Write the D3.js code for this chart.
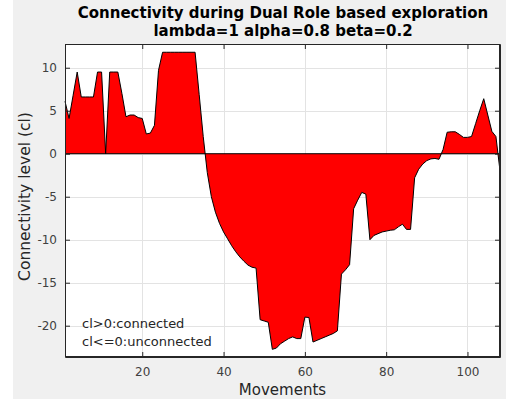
<!DOCTYPE html>
<html><head><meta charset="utf-8">
<script src="https://cdn.jsdelivr.net/npm/d3@7"></script>
<style>
html,body{margin:0;padding:0;background:#fff;}
svg{display:block;font-family:"DejaVu Sans",sans-serif;}
</style></head>
<body>
<svg id="chart" width="508" height="401"></svg>
<script>
const movements = d3.range(1, 109);
const connectivity = [
  6.1, 4.1, 6.8, 9.5, 6.6, 6.6, 6.6, 6.6, 9.5, 9.5,
  0, 9.5, 9.5, 9.5, 7.0, 4.3, 4.5, 4.5, 4.2, 4.1,
  2.3, 2.4, 3.3, 9.7, 11.8, 11.8, 11.8, 11.8, 11.8, 11.8,
  11.8, 11.8, 11.8, 6.9, 2.0, -2.2, -5.0, -6.8, -8.1, -9.1,
  -9.9, -10.7, -11.4, -12.0, -12.5, -12.95, -13.2, -13.3, -19.3, -19.45,
  -19.6, -22.75, -22.6, -22.1, -21.8, -21.5, -21.3, -21.5, -21.5, -19.0,
  -19.05, -21.9, -21.7, -21.5, -21.3, -21.1, -20.9, -20.6, -14.0, -13.5,
  -12.9, -6.4, -5.4, -4.5, -4.7, -10.0, -9.5, -9.3, -9.1, -9.0,
  -8.9, -8.85, -8.5, -8.2, -8.8, -8.8, -2.8, -1.8, -1.2, -0.8,
  -0.6, -0.55, -0.65, 0.5, 2.5, 2.55, 2.55, 2.25, 1.9, 1.9,
  2.0, 3.5, 5.0, 6.4, 4.5, 2.6, 2.0, -2.0
];
const xTicks = [20, 40, 60, 80, 100];
const yTicks = [-20, -15, -10, -5, 0, 5, 10];
const titleLines = ["Connectivity during Dual Role based exploration", "lambda=1 alpha=0.8 beta=0.2"];
const notes = ["cl>0:connected", "cl<=0:unconnected"];

const data = movements.map((m, i) => ({x: m, y: connectivity[i]}));

const svg = d3.select("#chart");
const L = 65, R = 500, T = 44, B = 357;
const x = d3.scaleLinear().domain([1, 108]).range([L, R]);
const y = d3.scaleLinear().domain([-23.64, 12.76]).range([B, T]);
const axisCol = "#262626";

svg.append("rect").attr("x", 13).attr("y", 0).attr("width", 493).attr("height", 399).attr("fill", "#f0f0f0");
svg.append("rect").attr("x", L).attr("y", T).attr("width", R - L).attr("height", B - T).attr("fill", "#fff");

// grid
const g = svg.append("g").attr("stroke", "#e3e3e3").attr("stroke-width", 1);
xTicks.forEach(t => g.append("line").attr("x1", Math.round(x(t)) + 0.5).attr("x2", Math.round(x(t)) + 0.5).attr("y1", T).attr("y2", B));
yTicks.forEach(t => g.append("line").attr("y1", Math.round(y(t)) + 0.5).attr("y2", Math.round(y(t)) + 0.5).attr("x1", L).attr("x2", R));

// area
const area = d3.area().x(d => x(d.x)).y0(y(0)).y1(d => y(d.y));
svg.append("path").datum(data).attr("d", area).attr("fill", "#ff0000").attr("stroke", "none");
const line = d3.line().x(d => x(d.x)).y(d => y(d.y));
svg.append("path").datum(data).attr("d", line).attr("fill", "none").attr("stroke", "#000").attr("stroke-width", 1);
svg.append("line").attr("x1", L).attr("x2", R).attr("y1", y(0)).attr("y2", y(0)).attr("stroke", "#000").attr("stroke-width", 1);

// axes
const fmt = d => String(d);
const xAxisB = d3.axisBottom(x).tickValues(xTicks).tickSizeInner(-5).tickSizeOuter(0).tickPadding(10).tickFormat(fmt);
const xAxisT = d3.axisTop(x).tickValues(xTicks).tickSizeInner(-5).tickSizeOuter(0).tickFormat("");
const yAxisL = d3.axisLeft(y).tickValues(yTicks).tickSizeInner(-5).tickSizeOuter(0).tickPadding(8).tickFormat(fmt);
const yAxisR = d3.axisRight(y).tickValues(yTicks).tickSizeInner(-5).tickSizeOuter(0).tickFormat("");

function style(sel) {
  sel.selectAll("path").attr("stroke", axisCol);
  sel.selectAll("line").attr("stroke", axisCol);
  sel.selectAll("text").attr("fill", "#404040").style("font-size", "12px").style("font-family", "DejaVu Sans, sans-serif");
}
svg.append("g").attr("transform", `translate(0,${B})`).call(xAxisB).call(style);
svg.append("g").attr("transform", `translate(0,${T})`).call(xAxisT).call(style);
svg.append("g").attr("transform", `translate(${L},0)`).call(yAxisL).call(style);
svg.append("g").attr("transform", `translate(${R},0)`).call(yAxisR).call(style);
svg.append("rect").attr("x", L + 0.5).attr("y", T + 0.5).attr("width", R - L - 1).attr("height", B - T - 1)
  .attr("fill", "none").attr("stroke", axisCol).attr("stroke-width", 1);

// titles
svg.append("g").selectAll("text").data(titleLines).join("text")
  .attr("x", (L + R) / 2 + 0.5).attr("y", (d, i) => 18 + i * 18)
  .attr("text-anchor", "middle").attr("font-weight", "bold").attr("font-size", 15).attr("fill", "#000")
  .text(d => d);

svg.append("text").attr("x", (L + R) / 2).attr("y", 395).attr("text-anchor", "middle")
  .attr("font-size", 15).attr("fill", axisCol).text("Movements");
svg.append("text").attr("transform", `translate(30,${(T + B) / 2 - 4}) rotate(-90)`).attr("text-anchor", "middle")
  .attr("font-size", 15.5).attr("fill", axisCol).text("Connectivity level (cl)");

svg.append("g").selectAll("text").data(notes).join("text")
  .attr("x", 82).attr("y", (d, i) => 328 + i * 17.5)
  .attr("font-size", 13).attr("fill", axisCol).text(d => d);
</script>
</body></html>
